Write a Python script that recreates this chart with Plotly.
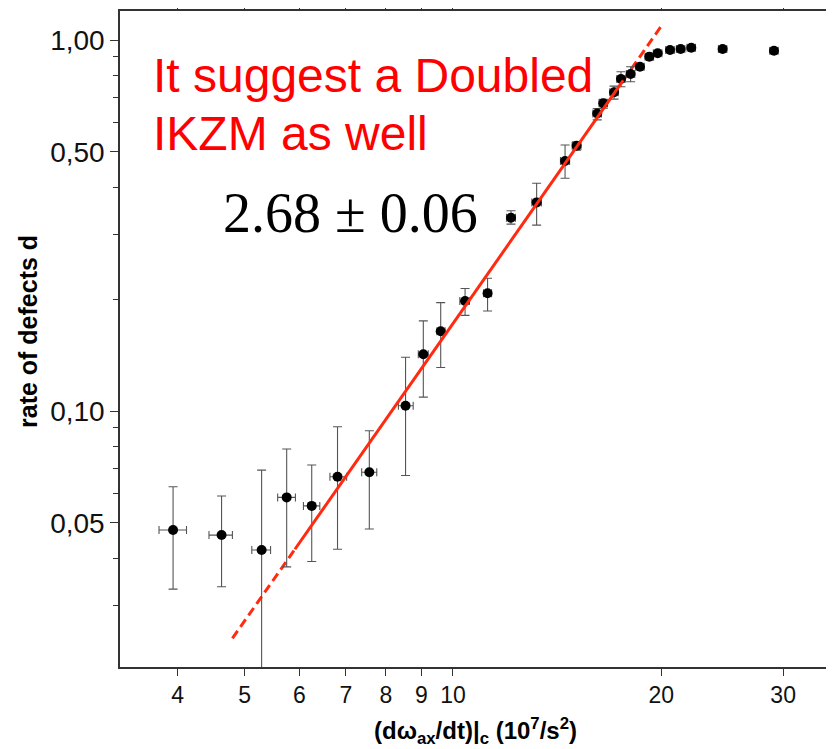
import plotly.graph_objects as go

# ---- data ----
x_vals = [3.94, 4.63, 5.29, 5.75, 6.25, 6.81, 7.57, 8.54, 9.06, 9.60, 10.41, 11.22,
          12.13, 13.21, 14.52, 15.09, 16.16, 16.49, 17.09, 17.49, 18.06, 18.63,
          19.22, 19.76, 20.59, 21.33, 22.1, 24.53, 29.1]
y_vals = [0.0478, 0.0463, 0.0422, 0.0585, 0.0555, 0.0665, 0.0684, 0.1033, 0.1422,
          0.164, 0.198, 0.2076, 0.332, 0.365, 0.472, 0.519, 0.634, 0.675, 0.723,
          0.785, 0.81, 0.847, 0.902, 0.921, 0.940, 0.946, 0.953, 0.946, 0.936]
y_hi = [0.0625, 0.059, 0.0693, 0.079, 0.0715, 0.0907, 0.0885, 0.1396, 0.175, 0.196,
        0.214, 0.228, 0.3467, 0.411, 0.521, 0.532, 0.654, 0.692, 0.751, 0.821, 0.847,
        0.86, 0.915, 0.93, 0.95, 0.955, 0.962, 0.959, 0.95]
y_lo = [0.0331, 0.0336, 0.015, 0.038, 0.0393, 0.0424, 0.0481, 0.067, 0.109, 0.131,
        0.181, 0.186, 0.319, 0.317, 0.424, 0.505, 0.609, 0.655, 0.693, 0.748, 0.772,
        0.835, 0.89, 0.91, 0.93, 0.937, 0.944, 0.930, 0.922]
x_lo = [3.76, 4.44, 5.12, 5.58, 6.08, 6.64, 7.38, 8.34, 8.91, 9.48, 10.23, 11.07,
        11.95, 13.0, 14.3, 14.87, 15.93, 16.26, 16.85, 17.25, 17.81, 18.37, 18.95,
        19.48, 20.3, 21.03, 21.79, 24.19, 28.7]
x_hi = [4.12, 4.80, 5.45, 5.92, 6.42, 7.02, 7.76, 8.76, 9.21, 9.74, 10.56, 11.37,
        12.31, 13.42, 14.74, 15.31, 16.39, 16.72, 17.33, 17.73, 18.31, 18.89, 19.49,
        20.04, 20.88, 21.63, 22.41, 24.87, 29.5]

# fit line (slope 2.68 in log-log), endpoints
fit_solid_x = [5.91, 17.62]
fit_solid_y = [0.0424, 0.778]
fit_dash_lo_x = [4.80, 5.91]
fit_dash_lo_y = [0.0244, 0.0424]
fit_dash_hi_x = [17.62, 20.13]
fit_dash_hi_y = [0.778, 1.109]

y_tickvals = [0.05, 0.1, 0.5, 1.0]
y_ticktext = ["0,05", "0,10", "0,50", "1,00"]
y_minor = [0.03, 0.04, 0.06, 0.07, 0.08, 0.09, 0.2, 0.3, 0.4, 0.6, 0.7, 0.8, 0.9]
x_tickvals = [4, 5, 6, 7, 8, 9, 10, 20, 30]
x_ticktext = ["4", "5", "6", "7", "8", "9", "10", "20", "30"]

RED_LINE = "#ff2a10"
SANS = "Liberation Sans, Arial, sans-serif"

err_plus = [h - y for h, y in zip(y_hi, y_vals)]
err_minus = [y - l for l, y in zip(y_lo, y_vals)]
xerr_plus = [h - x for h, x in zip(x_hi, x_vals)]
xerr_minus = [x - l for l, x in zip(x_lo, x_vals)]

# the page body adds an 8px offset; plot area in screen pixels: x 120..829, y 11..667
PX0, PX1, PY0, PY1 = 120, 829, 11, 667


def px(sx):
    return (sx - PX0) / (PX1 - PX0)


def py(sy):
    return (PY1 - sy) / (PY1 - PY0)


fig = go.Figure()

fig.add_trace(go.Scatter(x=fit_dash_lo_x, y=fit_dash_lo_y, mode="lines",
                         line=dict(color=RED_LINE, width=3, dash="9px,5px"),
                         showlegend=False, hoverinfo="skip"))
fig.add_trace(go.Scatter(x=fit_dash_hi_x, y=fit_dash_hi_y, mode="lines",
                         line=dict(color=RED_LINE, width=3, dash="9px,5px"),
                         showlegend=False, hoverinfo="skip"))

fig.add_trace(go.Scatter(
    x=x_vals, y=y_vals, mode="markers",
    marker=dict(color="black", size=10),
    error_y=dict(type="data", symmetric=False, array=err_plus, arrayminus=err_minus,
                 color="#555", thickness=1.1, width=4.5),
    error_x=dict(type="data", symmetric=False, array=xerr_plus, arrayminus=xerr_minus,
                 color="#555", thickness=1.1, width=4),
    showlegend=False))

fig.add_trace(go.Scatter(x=fit_solid_x, y=fit_solid_y, mode="lines",
                         line=dict(color=RED_LINE, width=3),
                         showlegend=False, hoverinfo="skip"))

fig.update_layout(
    width=834, height=749,
    margin=dict(l=PX0 - 8, r=834 - (PX1 - 8), t=PY0 - 8, b=749 - (PY1 - 8),
                autoexpand=False),
    paper_bgcolor="white", plot_bgcolor="white",
    font=dict(family=SANS, color="black"),
    xaxis=dict(type="log", range=[0.5188, 1.5434],
               tickmode="array", tickvals=x_tickvals, ticktext=x_ticktext,
               ticks="outside", ticklen=7, tickwidth=1.3, tickcolor="#333",
               showline=True, linecolor="#333", linewidth=1.5, mirror="allticks",
               showgrid=False, zeroline=False, automargin=False,
               tickfont=dict(size=23, family=SANS, color="#111")),
    yaxis=dict(type="log", range=[-1.690, 0.0782],
               tickmode="array", tickvals=y_tickvals, ticktext=y_ticktext,
               ticks="outside", ticklen=8, tickwidth=1.3, tickcolor="#333",
               minor=dict(tickmode="array", tickvals=y_minor, ticks="outside",
                          ticklen=5, tickwidth=1.2, tickcolor="#333", showgrid=False),
               showline=True, linecolor="#333", linewidth=1.5, mirror="allticks",
               showgrid=False, zeroline=False, automargin=False,
               tickfont=dict(size=28, family=SANS, color="#111")),
)

fig.add_annotation(
    xref="paper", yref="paper", x=px(28), y=py(332),
    text="<b>rate of defects d</b>", textangle=-90, showarrow=False,
    xanchor="center", yanchor="middle",
    font=dict(family=SANS, size=25, color="black"))

fig.add_annotation(
    xref="paper", yref="paper", x=px(475.8), y=py(731),
    text="<b>(dω<sub>ax</sub>/dt)|<sub>c</sub> (10<sup>7</sup>/s<sup>2</sup>)</b>",
    showarrow=False, xanchor="center", yanchor="middle",
    font=dict(family=SANS, size=24, color="black"))

fig.add_annotation(
    xref="paper", yref="paper", x=px(151), y=py(47),
    text="It suggest a Doubled", align="left",
    showarrow=False, xanchor="left", yanchor="top",
    font=dict(family=SANS, size=48, color="#ff0000"))
fig.add_annotation(
    xref="paper", yref="paper", x=px(151), y=py(105),
    text="IKZM as well", align="left",
    showarrow=False, xanchor="left", yanchor="top",
    font=dict(family=SANS, size=48, color="#ff0000"))

fig.add_annotation(
    xref="paper", yref="paper", x=px(350), y=py(213),
    text="2.68 ± 0.06", showarrow=False, xanchor="center", yanchor="middle",
    font=dict(family="Liberation Serif, Times New Roman, serif", size=56, color="black"))

fig.write_html("out.html")
